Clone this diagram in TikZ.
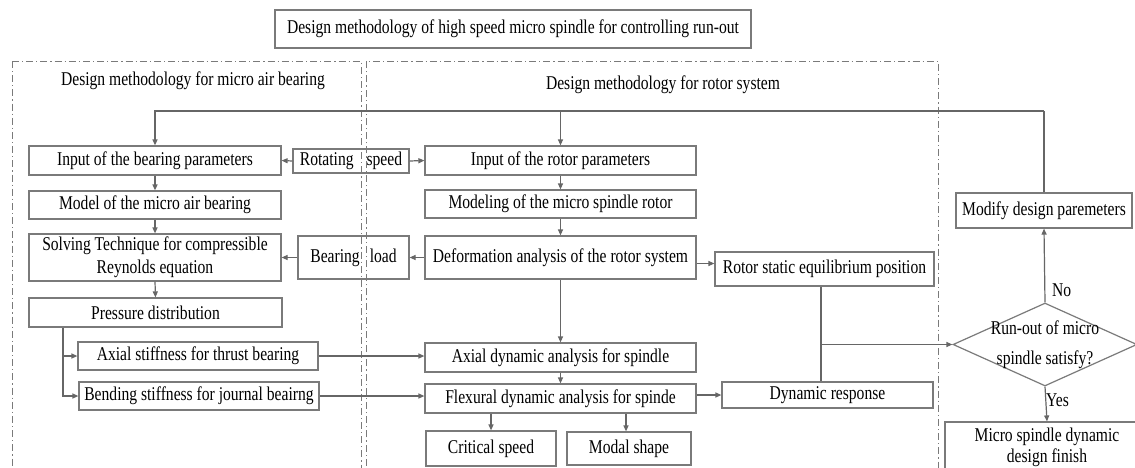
\documentclass[tikz,border=0pt]{standalone}
\usepackage{fontspec}
\setmainfont[FakeStretch=0.8]{Liberation Serif}
\usetikzlibrary{shapes.geometric,arrows.meta,calc}
\definecolor{boxgray}{HTML}{7A7A7A}
\definecolor{linegray}{HTML}{666666}
\definecolor{txt}{HTML}{000000}
\begin{document}
\begin{tikzpicture}[x=1pt,y=-1pt,
  box/.style={draw=boxgray, line width=1.2pt, inner sep=0pt, align=center, text=txt,
    font=\fontsize{19.5}{23}\selectfont},
  lbl/.style={inner sep=0pt, text=txt, font=\fontsize{19.5}{23}\selectfont},
  conn/.style={draw=linegray, line width=1.2pt},
  arr/.style={conn, -{Triangle[length=6pt,width=5pt]}},
  region/.style={draw=boxgray, line width=0.8pt, dash pattern=on 7pt off 3pt on 1.2pt off 3pt}]
\useasboundingbox (0,0) rectangle (1135,467);
\clip (0,0) rectangle (1135,467);
\fill[white] (0,0) rectangle (1135,467);

% regions
\draw[region] (12,61) -- (361,61) -- (361,480);
\draw[region] (12,61) -- (12,480);
\draw[region] (366,480) -- (366,61) -- (938,61) -- (938,480);
\node[lbl] (ltitle) at (193,81) {Design methodology for micro air bearing};
\node[lbl] (rtitle) at (663,85) {Design methodology for rotor system};

% nodes
\node[box, minimum width=476, minimum height=38] (title) at (513,29) {Design methodology of high speed micro spindle for controlling run-out};
\node[box, minimum width=252, minimum height=29] (bin) at (155,160.5) {Input of the bearing parameters};
\node[box, minimum width=116, minimum height=24] (rs) at (351,161) {Rotating\hspace{13pt}speed};
\node[box, minimum width=271, minimum height=29] (rin) at (560.5,160.5) {Input of the rotor parameters};
\node[box, minimum width=252, minimum height=28] (bmod) at (155,205) {Model of the micro air bearing};
\node[box, minimum width=271, minimum height=28] (rmod) at (560.5,204) {Modeling of the micro spindle rotor};
\node[box, minimum width=252, minimum height=47] (solv) at (155,257.5) {Solving Technique for compressible\\Reynolds equation};
\node[box, minimum width=111, minimum height=43] (bl) at (353.5,257.5) {Bearing\hspace{10pt}load};
\node[box, minimum width=271, minimum height=43] (def) at (560.5,257.5) {Deformation analysis of the rotor system};
\node[box, minimum width=219, minimum height=34] (rse) at (824.5,269) {Rotor static equilibrium position};
\node[box, minimum width=253, minimum height=29] (pd) at (155.5,312.5) {Pressure distribution};
\node[box, minimum width=240, minimum height=28] (axs) at (198,356) {Axial stiffness for thrust bearing};
\node[box, minimum width=240, minimum height=28] (bns) at (199,396) {Bending stiffness for journal beairng};
\node[box, minimum width=271, minimum height=29] (axd) at (560.5,357.5) {Axial dynamic analysis for spindle};
\node[box, minimum width=271, minimum height=29] (fxd) at (560.5,398.5) {Flexural dynamic analysis for spinde};
\node[box, minimum width=130, minimum height=35] (cs) at (491,448.5) {Critical speed};
\node[box, minimum width=124, minimum height=33] (ms) at (629,448.5) {Modal shape};
\node[box, minimum width=211, minimum height=26] (dr) at (827.5,395) {Dynamic response};
\node[box, shape=diamond, aspect=2.2, minimum width=184, minimum height=83] (dia) at (1045,344.5) {};
\node[lbl, align=center, font=\fontsize{19.5}{30}\selectfont] (diatext) at (dia.center) {Run-out of micro\\spindle satisfy?};
\node[box, minimum width=176, minimum height=35] (mod) at (1044,210.5) {Modify design paremeters};
\node[box, minimum width=204, minimum height=50, font=\fontsize{19.5}{21}\selectfont] (fin) at (1047,447) {Micro spindle dynamic\\design finish};

% connectors
\coordinate (topr) at (1044,111);
\draw[conn] (mod.north) -- (topr);
\draw[arr] (topr) -| (bin.north);
\draw[arr] (rin.north |- topr) -- (rin.north);
\draw[arr] (rs.west) -- (bin.east);
\draw[arr] (rs.east) -- (rin.west);
\draw[arr] (bin.south) -- (bmod.north);
\draw[arr] (bmod.south) -- (solv.north);
\draw[arr] (solv.south) -- (pd.north);
\draw[arr] (rin.south) -- (rmod.north);
\draw[arr] (rmod.south) -- (def.north);
\draw[arr] (def.west) -- (bl.east);
\draw[arr] (bl.west) -- (solv.east);
\draw[arr] ([yshift=-6pt]def.east) -- ([yshift=-6pt]def.east -| rse.west);
\draw[arr] ([xshift=-92.5pt]pd.south) |- (axs.west);
\draw[arr] ([xshift=-92.5pt]pd.south) |- (bns.west);
\draw[arr] (axs.east) -- (axs.east -| axd.west);
\draw[arr] (bns.east) -- (bns.east -| fxd.west);
\draw[arr] (def.south) -- (axd.north);
\draw[arr] (axd.south) -- (fxd.north);
\draw[arr] (cs.north |- fxd.south) -- (cs.north);
\draw[arr] ([xshift=-3pt]ms.north |- fxd.south) -- ([xshift=-3pt]ms.north);
\draw[arr] (dr.west -| fxd.east) -- (dr.west);
\draw[conn] ([xshift=-3.5pt]rse.south) -- ([xshift=-3.5pt]rse.south |- dr.north);
\draw[arr] ([xshift=-3.5pt]rse.south |- dia.west) -- (dia.west);
\draw[arr] (dia.north) -- (mod.south);
\draw[arr] (dia.south) -- (fin.north);
\node[lbl, anchor=west] (no) at (1052,290) {No};
\node[lbl, anchor=west] (yes) at (1046,400) {Yes};
\end{tikzpicture}
\end{document}
